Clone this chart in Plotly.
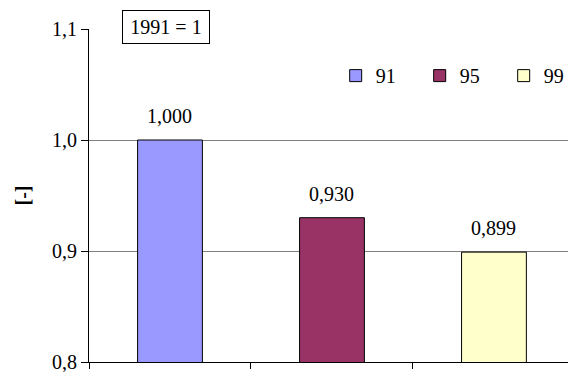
import plotly.graph_objects as go

# Index values, 1991 = 1
categories = ["91", "95", "99"]
values = [1.000, 0.930, 0.899]
colors = ["#9999FF", "#993366", "#FFFFCC"]
y_ticks = [0.8, 0.9, 1.0, 1.1]

FONT = "Liberation Serif, Times New Roman, serif"
FS = 20

fig = go.Figure()
for i, (cat, val, col) in enumerate(zip(categories, values, colors)):
    fig.add_trace(go.Bar(
        x=[cat], y=[val], name=cat, width=0.4,
        marker=dict(color=col, line=dict(color="black", width=1)),
    ))
    # value label above each bar
    fig.add_annotation(
        x=i, y=val, text=f"{val:.3f}".replace(".", ","),
        showarrow=False, yanchor="bottom", yshift=11,
        font=dict(family=FONT, size=FS, color="black"),
    )

fig.add_annotation(
    xref="paper", yref="paper", x=0.161, y=1.0075, text="1991 = 1",
    showarrow=False, xanchor="center", yanchor="middle",
    width=84, height=30,
    font=dict(family=FONT, size=FS, color="black"),
    bgcolor="white", bordercolor="black", borderwidth=1, borderpad=1,
)

fig.update_layout(
    width=568, height=372,
    margin=dict(l=89, r=0, t=29, b=10, autoexpand=False),
    paper_bgcolor="white", plot_bgcolor="white",
    barmode="overlay",
    separators=", ",
    font=dict(family=FONT, size=FS, color="black"),
    showlegend=True,
    legend=dict(
        orientation="h", x=0.515, y=0.86, xanchor="left", yanchor="middle",
        font=dict(family=FONT, size=FS), entrywidth=39,
        itemwidth=30, bgcolor="rgba(0,0,0,0)",
    ),
    xaxis=dict(
        type="category", range=[-0.5, 2.457], showticklabels=False,
        ticks="outside", tickson="boundaries", ticklen=6, tickcolor="black",
        showline=True, linecolor="black", linewidth=1, showgrid=False,
        zeroline=False, layer="above traces",
    ),
    yaxis=dict(
        range=[0.8, 1.1], tickvals=y_ticks, tickformat=".1f",
        ticks="outside", ticklen=7, tickcolor="black",
        ticklabeloverflow="allow",
        showline=True, linecolor="black", linewidth=1,
        showgrid=True, gridcolor="#808080", gridwidth=1, zeroline=False,
        title=dict(text="<b>[-]</b>", standoff=16,
                   font=dict(family=FONT, size=FS)),
    ),
)

fig.write_html("out.html")
